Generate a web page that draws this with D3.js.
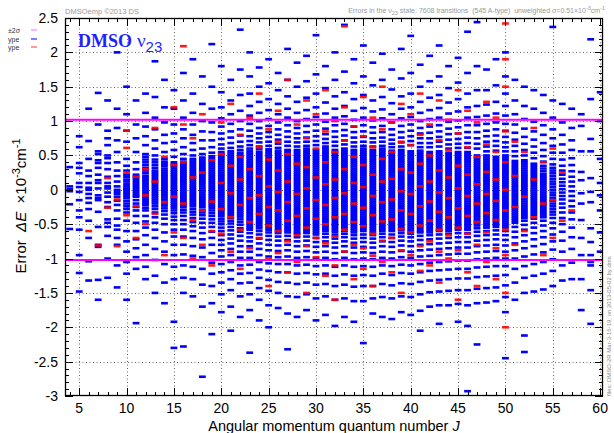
<!DOCTYPE html>
<html><head><meta charset="utf-8">
<script src="https://cdn.jsdelivr.net/npm/d3@7"></script>
<style>body{margin:0;background:#fff}svg{display:block}text{font-family:"Liberation Sans",Arial,sans-serif}</style>
</head><body><svg id="c" width="614" height="433"></svg>
<script>
// Angular momentum J for each column
const J_LIST = [4,5,6,7,8,9,10,11,12,13,14,15,16,17,18,19,20,21,22,23,24,25,26,27,28,29,30,31,32,33,34,35,36,37,38,39,40,41,42,43,44,45,46,47,48,49,50,51,52,53,54,55,56,57,58,59,60];
// Errors (in hundredths of 1e-3 cm-1), one list per J: blue = other transitions, red = A-type
const blueErr = [
[33,5,1,-2,-21,-57],
[78,62,39,32,24,10,4,-3,-15,-30,-40,-58,-95,-121,-148],
[118,71,45,28,20,10,3,0,-6,-12,-19,-28,-45,-70,-104,-132],
[141,95,56,52,43,39,32,22,14,10,2,-8,-12,-15,-32,-54,-80,-83,-131,-160],
[130,86,75,65,50,46,39,30,19,10,5,2,-4,-10,-18,-25,-43,-48,-54,-67,-100,-128],
[200,118,90,72,55,40,28,20,12,5,0,-3,-6,-10,-16,-22,-30,-42,-52,-58,-70,-80,-110,-142],
[150,110,86,70,45,35,28,22,19,15,12,8,5,2,0,-3,-6,-9,-12,-16,-20,-24,-28,-33,-45,-60,-75,-90,-105,-122,-160],
[130,95,75,55,40,30,22,19,16,13,10,7,4,1,-2,-5,-8,-10,-15,-20,-25,-30,-38,-48,-60,-72,-85,-98,-115,-194],
[140,112,92,78,65,52,48,44,40,36,32,28,24,20,17,14,11,8,5,2,-1,-4,-7,-10,-13,-16,-19,-22,-26,-30,-38,-46,-55,-66,-80,-95,-112,-130],
[187,135,105,88,72,60,50,44,40,36,32,28,25,22,19,16,13,10,7,4,1,-2,-5,-8,-11,-14,-17,-20,-24,-28,-33,-40,-48,-58,-70,-86,-102,-125,-150],
[160,120,98,80,68,55,45,41,38,35,31,28,25,22,19,16,13,10,7,4,1,-2,-5,-8,-11,-14,-17,-20,-23,-27,-31,-36,-42,-50,-62,-75,-90,-108,-135,-165],
[145,118,95,82,70,58,48,40,37,34,31,28,25,22,19,16,13,10,7,4,1,-2,-5,-8,-11,-14,-17,-20,-23,-26,-30,-34,-39,-44,-50,-58,-68,-80,-95,-112,-130,-192,-230],
[170,130,105,88,75,62,52,45,41,38,35,32,29,26,23,20,17,14,11,8,5,2,-1,-4,-7,-10,-13,-16,-19,-22,-25,-29,-33,-38,-44,-50,-58,-68,-80,-94,-110,-128,-150,-228],
[190,140,112,95,80,68,58,50,45,42,39,36,33,30,27,24,21,18,15,12,9,6,3,0,-3,-6,-9,-12,-15,-18,-21,-24,-28,-32,-36,-41,-47,-53,-60,-70,-82,-96,-112,-130,-155],
[165,125,100,85,72,60,52,47,44,41,38,35,32,29,26,23,20,17,14,11,8,5,2,-1,-4,-7,-10,-13,-16,-19,-22,-25,-29,-33,-37,-42,-48,-55,-63,-72,-84,-98,-115,-138,-170,-272],
[212,150,118,98,84,72,62,54,49,46,43,40,37,34,31,28,25,22,19,16,13,10,7,4,1,-2,-5,-8,-11,-14,-17,-20,-23,-26,-30,-34,-38,-43,-48,-54,-61,-70,-80,-92,-106,-122,-140,-165,-210],
[180,142,120,104,92,82,74,66,60,55,52,49,46,43,40,37,34,31,28,25,22,19,16,13,10,7,4,1,-2,-5,-8,-11,-14,-17,-20,-23,-26,-29,-32,-35,-38,-42,-46,-50,-55,-60,-66,-73,-80,-88,-97,-108,-120,-135,-152,-178],
[160,130,110,96,85,76,68,61,56,53,50,47,44,41,38,35,32,29,26,23,20,17,14,11,8,5,2,-1,-4,-7,-10,-13,-16,-19,-22,-25,-28,-31,-34,-37,-41,-45,-49,-54,-59,-65,-71,-78,-86,-95,-105,-117,-130,-146,-170,-205],
[233,175,138,115,100,88,79,70,63,58,54,51,48,45,42,39,36,33,30,27,24,21,18,15,12,9,6,3,0,-3,-6,-9,-12,-15,-18,-21,-24,-27,-30,-33,-36,-39,-43,-47,-51,-56,-61,-67,-74,-82,-90,-99,-110,-122,-136,-155,-185],
[200,165,140,122,108,96,86,78,71,65,60,56,53,50,47,44,41,38,35,32,29,26,23,20,17,14,11,8,5,2,-1,-4,-7,-10,-13,-16,-19,-22,-25,-28,-31,-34,-37,-40,-43,-46,-49,-52,-55,-58,-63,-69,-75,-82,-90,-99,-109,-121,-135,-152,-175,-237],
[178,150,128,112,100,90,82,75,69,63,59,55,52,49,46,43,40,37,34,31,28,25,22,19,16,13,10,7,4,1,-2,-5,-8,-11,-14,-17,-20,-23,-26,-29,-32,-35,-38,-41,-44,-47,-50,-53,-56,-60,-65,-71,-78,-86,-95,-105,-116,-128,-143,-160,-190],
[190,155,132,116,103,93,84,77,70,64,59,56,53,50,47,44,41,38,35,32,29,26,23,20,17,14,11,8,5,2,-1,-4,-7,-10,-13,-16,-19,-22,-25,-28,-31,-34,-37,-40,-43,-46,-49,-52,-55,-58,-62,-67,-73,-80,-88,-97,-107,-118,-131,-147,-168,-200],
[170,145,125,110,98,88,80,73,67,61,57,54,51,48,45,42,39,36,33,30,27,24,21,18,15,12,9,6,3,0,-3,-6,-9,-12,-15,-18,-21,-24,-27,-30,-33,-36,-39,-42,-45,-48,-51,-54,-57,-60,-63,-68,-74,-81,-89,-98,-108,-120,-134,-150,-172],
[205,160,136,118,105,94,85,77,70,64,58,55,52,49,46,43,40,37,34,31,28,25,22,19,16,13,10,7,4,1,-2,-5,-8,-11,-14,-17,-20,-23,-26,-29,-32,-35,-38,-41,-44,-47,-50,-53,-56,-59,-62,-67,-73,-80,-88,-97,-108,-120,-135,-155,-180,-232],
[185,150,128,112,100,90,82,75,69,63,58,55,52,49,46,43,40,37,34,31,28,25,22,19,16,13,10,7,4,1,-2,-5,-8,-11,-14,-17,-20,-23,-26,-29,-32,-35,-38,-41,-44,-47,-50,-53,-56,-59,-62,-64,-69,-75,-82,-90,-99,-110,-122,-137,-156,-185],
[195,158,134,116,103,93,84,76,70,64,60,57,54,51,48,45,42,39,36,33,30,27,24,21,18,15,12,9,6,3,0,-3,-6,-9,-12,-15,-18,-21,-24,-27,-30,-33,-36,-39,-42,-45,-48,-51,-54,-57,-60,-63,-68,-74,-81,-89,-98,-109,-121,-135,-152,-175],
[225,168,140,120,106,95,86,78,71,65,58,55,52,49,46,43,40,37,34,31,28,25,22,19,16,13,10,7,4,1,-2,-5,-8,-11,-14,-17,-20,-23,-26,-29,-32,-35,-38,-41,-44,-47,-50,-53,-56,-59,-62,-65,-70,-76,-83,-91,-100,-111,-123,-138,-158,-190],
[180,148,127,111,99,89,81,74,68,63,60,57,54,51,48,45,42,39,36,33,30,27,24,21,18,15,12,9,6,3,0,-3,-6,-9,-12,-15,-18,-21,-24,-27,-30,-33,-36,-39,-42,-45,-48,-51,-54,-57,-60,-64,-69,-75,-82,-90,-99,-110,-122,-137,-155,-182],
[200,160,136,118,105,94,85,77,70,64,58,55,52,49,46,43,40,37,34,31,28,25,22,19,16,13,10,7,4,1,-2,-5,-8,-11,-14,-17,-20,-23,-26,-29,-32,-35,-38,-41,-44,-47,-50,-53,-56,-59,-62,-66,-71,-77,-84,-92,-101,-112,-125,-140,-160,-198],
[240,172,142,122,107,96,87,79,72,66,60,57,54,51,48,45,42,39,36,33,30,27,24,21,18,15,12,9,6,3,0,-3,-6,-9,-12,-15,-18,-21,-24,-27,-30,-33,-36,-39,-42,-45,-48,-51,-54,-57,-60,-64,-69,-75,-82,-90,-99,-110,-123,-138,-158,-185],
[190,155,132,115,102,92,84,76,69,63,58,55,52,49,46,43,40,37,34,31,28,25,22,19,16,13,10,7,4,1,-2,-5,-8,-11,-14,-17,-20,-23,-26,-29,-32,-35,-38,-41,-44,-47,-50,-53,-56,-59,-62,-66,-71,-77,-84,-92,-101,-112,-125,-141,-162,-192],
[210,165,138,119,105,94,85,77,70,64,60,57,54,51,48,45,42,39,36,33,30,27,24,21,18,15,12,9,6,3,0,-3,-6,-9,-12,-15,-18,-21,-24,-27,-30,-33,-36,-39,-42,-45,-48,-51,-54,-57,-60,-65,-70,-76,-83,-91,-100,-111,-124,-140,-162,-223],
[185,152,130,114,101,91,83,75,69,63,58,55,52,49,46,43,40,37,34,31,28,25,22,19,16,13,10,7,4,1,-2,-5,-8,-11,-14,-17,-20,-23,-26,-29,-32,-35,-38,-41,-44,-47,-50,-53,-56,-59,-62,-66,-71,-77,-84,-92,-101,-112,-125,-140,-158,-180],
[198,160,135,117,104,93,84,76,70,64,60,57,54,51,48,45,42,39,36,33,30,27,24,21,18,15,12,9,6,3,0,-3,-6,-9,-12,-15,-18,-21,-24,-27,-30,-33,-36,-39,-42,-45,-48,-51,-54,-57,-60,-64,-69,-75,-82,-90,-99,-110,-122,-137,-156,-185],
[175,146,126,110,98,88,80,73,67,62,57,54,51,48,45,42,39,36,33,30,27,24,21,18,15,12,9,6,3,0,-3,-6,-9,-12,-15,-18,-21,-24,-27,-30,-33,-36,-39,-42,-45,-48,-51,-54,-57,-60,-65,-70,-76,-83,-91,-100,-111,-124,-139,-158,-188],
[205,162,136,118,104,93,84,76,69,63,58,55,52,49,46,43,40,37,34,31,28,25,22,19,16,13,10,7,4,1,-2,-5,-8,-11,-14,-17,-20,-23,-26,-29,-32,-35,-38,-41,-44,-47,-50,-53,-56,-59,-63,-68,-74,-81,-89,-98,-109,-121,-136,-155,-178],
[224,170,140,120,106,95,86,78,71,65,56,53,50,47,44,41,38,35,32,29,26,23,20,17,14,11,8,5,2,-1,-4,-7,-10,-13,-16,-19,-22,-25,-28,-31,-34,-37,-40,-43,-46,-49,-52,-55,-58,-61,-64,-69,-75,-82,-90,-99,-110,-122,-137,-156,-182],
[182,150,128,112,100,90,82,75,68,62,57,54,51,48,45,42,39,36,33,30,27,24,21,18,15,12,9,6,3,0,-3,-6,-9,-12,-15,-18,-21,-24,-27,-30,-33,-36,-39,-42,-45,-48,-51,-54,-57,-60,-62,-67,-73,-80,-88,-97,-108,-120,-134,-152,-176,-205],
[195,158,134,116,103,92,83,75,68,62,55,52,49,46,43,40,37,34,31,28,25,22,19,16,13,10,7,4,1,-2,-5,-8,-11,-14,-17,-20,-23,-26,-29,-32,-35,-38,-41,-44,-47,-50,-53,-56,-59,-62,-66,-72,-79,-87,-96,-106,-118,-132,-149,-170],
[210,165,138,119,105,94,85,77,70,63,56,53,50,47,44,41,38,35,32,29,26,23,20,17,14,11,8,5,2,-1,-4,-7,-10,-13,-16,-19,-22,-25,-28,-31,-34,-37,-40,-43,-46,-49,-52,-55,-58,-60,-65,-71,-78,-86,-95,-105,-117,-131,-148,-168,-195],
[180,148,127,111,99,89,81,73,66,60,54,51,48,45,42,39,36,33,30,27,24,21,18,15,12,9,6,3,0,-3,-6,-9,-12,-15,-18,-21,-24,-27,-30,-33,-36,-39,-42,-45,-48,-51,-54,-57,-60,-64,-70,-77,-85,-94,-104,-116,-130,-147,-168],
[192,156,132,114,101,91,82,74,67,61,55,52,49,46,43,40,37,34,31,28,25,22,19,16,13,10,7,4,1,-2,-5,-8,-11,-14,-17,-20,-23,-26,-29,-32,-35,-38,-41,-44,-47,-50,-53,-56,-58,-63,-69,-76,-84,-93,-103,-115,-129,-146,-166,-192],
[230,170,140,120,105,94,84,76,68,61,55,52,49,46,43,40,37,34,31,28,25,22,19,16,13,10,7,4,1,-2,-5,-8,-11,-14,-17,-20,-23,-26,-29,-32,-35,-38,-41,-44,-47,-50,-53,-56,-58,-63,-69,-76,-84,-93,-103,-115,-129,-146,-168,-198,-293],
[244,180,145,122,106,94,84,75,67,60,50,47,44,41,38,35,32,29,26,23,20,17,14,11,8,5,2,-1,-4,-7,-10,-13,-16,-19,-22,-25,-28,-31,-34,-37,-40,-43,-46,-49,-52,-56,-61,-67,-74,-82,-91,-101,-113,-127,-144,-165,-225],
[175,145,124,108,96,86,78,70,63,56,50,47,44,41,38,35,32,29,26,23,20,17,14,11,8,5,2,-1,-4,-7,-10,-13,-16,-19,-22,-25,-28,-31,-34,-37,-40,-43,-46,-49,-52,-55,-60,-66,-73,-81,-90,-100,-112,-126,-143,-164],
[190,152,128,111,98,88,79,71,64,57,48,45,42,39,36,33,30,27,24,21,18,15,12,9,6,3,0,-3,-6,-9,-12,-15,-18,-21,-24,-27,-30,-33,-36,-39,-42,-45,-48,-51,-54,-59,-65,-72,-80,-89,-99,-111,-125,-142,-162],
[200,165,140,122,108,96,86,77,69,62,56,50,47,44,41,38,35,32,29,26,23,20,17,14,11,8,5,2,-1,-4,-7,-10,-13,-16,-19,-22,-25,-28,-31,-34,-37,-40,-43,-46,-49,-52,-55,-60,-66,-73,-81,-90,-100,-111,-124,-139,-156,-178,-245],
[160,130,110,95,83,73,64,56,49,42,39,36,33,30,27,24,21,18,15,12,9,6,3,0,-3,-6,-9,-12,-15,-18,-21,-24,-27,-30,-33,-36,-39,-42,-45,-48,-54,-61,-69,-78,-88,-100,-115,-135,-160],
[150,122,103,89,77,67,58,50,43,40,37,34,31,28,25,22,19,16,13,10,7,4,1,-2,-5,-8,-11,-14,-17,-20,-23,-26,-29,-32,-35,-38,-41,-45,-51,-58,-66,-75,-85,-97,-111,-128,-150,-212,-236],
[145,118,99,85,73,63,54,46,38,35,32,29,26,23,20,17,14,11,8,5,2,-1,-4,-7,-10,-13,-16,-19,-22,-25,-28,-31,-34,-37,-42,-48,-55,-63,-72,-82,-94,-108,-125,-148],
[138,112,94,80,68,58,49,41,35,31,27,23,20,17,14,11,8,5,2,-1,-4,-7,-10,-13,-16,-19,-22,-25,-28,-31,-34,-37,-40,-45,-52,-60,-69,-79,-91,-105,-122,-145],
[237,130,105,88,75,64,54,45,37,32,28,24,20,16,12,8,4,0,-4,-8,-12,-16,-20,-24,-28,-32,-36,-41,-48,-56,-65,-75,-87,-101,-118,-140],
[125,98,80,66,54,44,35,28,22,16,11,6,1,-4,-9,-14,-20,-26,-33,-41,-50,-61,-74,-90,-110,-132],
[118,90,72,58,46,36,27,19,12,5,-2,-9,-16,-24,-33,-43,-55,-69,-86,-106,-130],
[110,93,56,26,14,-5,-20,-44,-70,-95,-130,-175],
[219,132,74,56,17,-3,-18,-56,-76,-95,-105,-110,-146,-195],
[142,100,45,10,-8,-30,-62,-90]
];
const redErr = [
[],[],[-60],[-81],[17,-26],[-14,-82],[86,61,25,-37],[19,-24,-70],[30,-8,-50],[90,12,-35],
[48,-18,-95],[120,36,-10,-62],[209,95,40,-20,-70],[75,18,-44,-100],[110,25,-30,-80],[43,-17,-60,-110],
[98,52,10,-28,-64],[125,35,-5,-40,-90],[80,48,15,-22,-58,-115],[105,30,-12,-47,-85],[140,62,20,-8,-35,-70],
[88,44,5,-25,-52,-100,-140],[115,70,28,-3,-30,-60,-92],[160,52,12,-18,-45,-75,-120],[95,38,-6,-38,-66,-105],
[130,75,33,2,-27,-55,-82,-150],[110,60,18,-15,-42,-70,-98],[145,85,40,8,-22,-50,-78,-125],[100,55,15,-12,-40,-68,-110,-160],
[238,120,72,30,-5,-35,-58,-90],[92,48,10,-20,-47,-80,-130],[135,78,36,4,-26,-53,-85,-115],[105,62,22,-9,-37,-64,-96,-140],
[150,88,45,12,-18,-46,-74,-105],[98,55,16,-14,-43,-70,-120],[125,70,30,-2,-30,-57,-88,-150],[110,65,25,-6,-35,-62,-95],
[140,80,38,5,-24,-52,-82,-118],[95,50,12,-17,-45,-75,-110],[130,72,28,-4,-32,-58,-90,-135],[102,58,18,-12,-40,-66,-100],
[145,82,35,2,-27,-55,-88,-160],[115,62,22,-9,-38,-64,-120],[98,48,8,-20,-47,-80,-140],[128,66,26,-6,-34,-62,-105],
[105,55,15,-16,-44,-85,-130],[242,190,150,85,40,0,-30,-58,-95,-150,-200],[70,20,-25,-80],[55,-10,-60],[90,15,-40],
[40,-20,-95],[60,-15,-70],[25,-45],[-30],[],[],[]
];
const xMajorTicks = [5,10,15,20,25,30,35,40,45,50,55,60];
const yMajorTicks = [-3,-2.5,-2,-1.5,-1,-0.5,0,0.5,1,1.5,2,2.5];
const yTickLabels = ["-3","-2.5","-2","-1.5","-1","-0.5","0","0.5","1","1.5","2","2.5"];
const sigmaLevels = [1.02,-1.02];

const svg = d3.select('#c');
const L=65, R=603, T=18, B=396;
const x = d3.scaleLinear().domain([3.5,60.3]).range([L,R]);
const y = d3.scaleLinear().domain([-3,2.5]).range([B,T]);

svg.append('rect').attr('width',614).attr('height',433).attr('fill','#fff');
svg.append('clipPath').attr('id','clip').append('rect').attr('x',L).attr('y',T).attr('width',R-L).attr('height',B-T);

// grid
const grid = svg.append('g').attr('stroke','#666').attr('stroke-width',1).attr('stroke-dasharray','1,2.5');
grid.selectAll('.gx').data(xMajorTicks).join('line').attr('x1',d=>Math.round(x(d))+0.5).attr('x2',d=>Math.round(x(d))+0.5).attr('y1',T).attr('y2',B);
grid.selectAll('.gy').data(yMajorTicks.slice(1,-1)).join('line').attr('y1',d=>Math.round(y(d))+0.5).attr('y2',d=>Math.round(y(d))+0.5).attr('x1',L).attr('x2',R);

// data dashes
const plot = svg.append('g').attr('clip-path','url(#clip)');
const dw = 6.8, dh = 2.6;
const flat = (arr) => arr.flatMap((vals,i)=>vals.map(v=>({J:J_LIST[i],v:v/100})));
plot.append('g').selectAll('rect').data(flat(blueErr)).join('rect')
  .attr('x',d=>x(d.J)-dw/2).attr('y',d=>y(d.v)-dh/2).attr('width',dw).attr('height',dh).attr('fill','#0000ff');
plot.append('g').selectAll('rect').data(flat(redErr)).join('rect')
  .attr('x',d=>x(d.J)-dw/2).attr('y',d=>y(d.v)-dh/2).attr('width',dw).attr('height',dh).attr('fill','#ff0000').attr('opacity',0.9);

// sigma lines
plot.selectAll('.sig').data(sigmaLevels).join('line').attr('x1',L).attr('x2',R).attr('y1',d=>y(d)).attr('y2',d=>y(d))
  .attr('stroke','#ff00ff').attr('stroke-width',2);

// frame and ticks
const ax = svg.append('g').attr('stroke','#000').attr('stroke-width',1);
ax.append('rect').attr('x',L+0.5).attr('y',T+0.5).attr('width',R-L-1).attr('height',B-T-1).attr('fill','none').attr('stroke-width',1.3);
const xMinor = d3.range(4,61,1);
const px = d=>Math.round(x(d))+0.5, py = d=>Math.round(y(d))+0.5;
const xlen = d=> (d%5===0)?8:4;
ax.selectAll('.tb').data(xMinor).join('line').attr('x1',px).attr('x2',px).attr('y1',B).attr('y2',d=>B-xlen(d));
ax.selectAll('.tt').data(xMinor).join('line').attr('x1',px).attr('x2',px).attr('y1',T).attr('y2',d=>T+xlen(d));
const yMinor = d3.range(-30,26,1).map(d=>d/10);
const ylen = d=> (Math.abs(Math.round(d*10))%5===0)?8:4;
ax.selectAll('.tl').data(yMinor).join('line').attr('y1',py).attr('y2',py).attr('x1',L).attr('x2',d=>L+ylen(d));
ax.selectAll('.tr').data(yMinor).join('line').attr('y1',py).attr('y2',py).attr('x1',R).attr('x2',d=>R-ylen(d));

// tick labels
svg.selectAll('.xl').data(xMajorTicks).join('text').attr('x',d=>x(d)).attr('y',413).attr('text-anchor','middle')
  .attr('font-size',14).attr('fill','#000').text(d=>d);
svg.selectAll('.yl').data(yMajorTicks).join('text').attr('x',58).attr('y',d=>y(d)+5).attr('text-anchor','end')
  .attr('font-size',14).attr('fill','#000').text((d,i)=>yTickLabels[i]);

// axis titles
const xt = svg.append('text').attr('x',334).attr('y',431).attr('text-anchor','middle').attr('font-size',14.5).attr('fill','#000');
xt.append('tspan').text('Angular momentum quantum number ');
xt.append('tspan').attr('font-style','italic').text('J');
const yt = svg.append('text').attr('transform','translate(26,206) rotate(-90)').attr('text-anchor','middle').attr('font-size',15).attr('fill','#000').attr('xml:space','preserve');
yt.append('tspan').text('Error  ');
yt.append('tspan').attr('font-style','italic').text('ΔE');
yt.append('tspan').text('  ×10');
yt.append('tspan').attr('dy',-6).attr('font-size',11).text('-3');
yt.append('tspan').attr('dy',6).text('cm');
yt.append('tspan').attr('dy',-6).attr('font-size',11).text('-1');

// annotations
svg.append('text').attr('x',65).attr('y',14).attr('font-size',7.5).attr('fill','#999').text('DMSOemp ©2013 DS');
const tr = svg.append('text').attr('x',605).attr('y',13).attr('text-anchor','end').attr('font-size',7).attr('fill','#999').attr('xml:space','preserve');
tr.append('tspan').text('Errors in the ν');
tr.append('tspan').attr('dy',2).attr('font-size',5.5).text('23');
tr.append('tspan').attr('dy',-2).text(' state: 7608 transitions  (545 A-type)  unweighted σ=0.51×10');
tr.append('tspan').attr('dy',-3).attr('font-size',5.5).text('-3');
tr.append('tspan').attr('dy',3).text('cm');
tr.append('tspan').attr('dy',-3).attr('font-size',5.5).text('-1');

svg.append('text').attr('transform','translate(611,396) rotate(-90)').attr('font-size',6).attr('fill','#888')
  .text('files: DMSO-2R Mar-3-16-19, on 2013-05-02 by dms');

// legend (clipped at left)
const legend = [{t:'±2σ',c:'#ff66ff',y:31},{t:'ype',c:'#0000ff',y:40},{t:'ype',c:'#ff3333',y:48}];
svg.selectAll('.lt').data(legend).join('text').attr('x',8).attr('y',d=>d.y+2).attr('font-size',7).attr('fill','#333').text(d=>d.t);
svg.selectAll('.ll').data(legend).join('line').attr('x1',31).attr('x2',37).attr('y1',d=>d.y-1).attr('y2',d=>d.y-1).attr('stroke',d=>d.c).attr('stroke-width',1);

// title label
const tl = svg.append('text').attr('x',78).attr('y',47).attr('fill','#1f1fff');
tl.append('tspan').attr('font-family','"Liberation Serif",serif').attr('font-weight','bold').attr('font-size',18).text('DMSO');
tl.append('tspan').attr('font-family','"Liberation Serif",serif').attr('font-size',19).attr('dx',5).text('ν');
tl.append('tspan').attr('font-size',15).attr('dy',5).text('23');
</script></body></html>
